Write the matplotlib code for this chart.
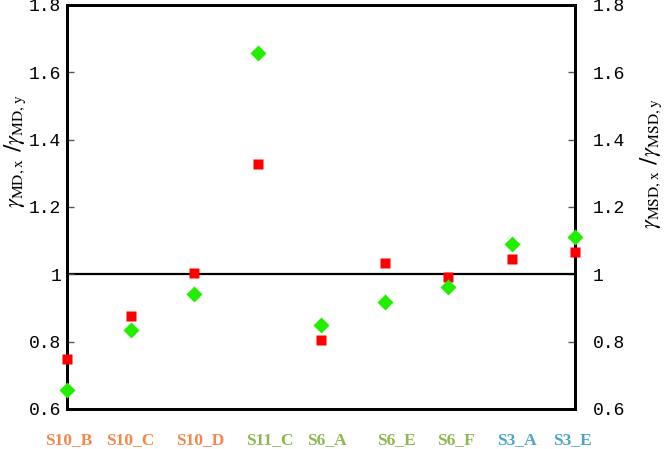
import matplotlib
matplotlib.use("Agg")
from matplotlib import pyplot as plt

# samples along the x axis
samples = ["S10_B", "S10_C", "S10_D", "S11_C", "S6_A", "S6_E", "S6_F", "S3_A", "S3_E"]
label_colors = ["#f4874b", "#f4874b", "#f4874b",
                "#8cb84e", "#8cb84e", "#8cb84e", "#8cb84e",
                "#4aa6c9", "#4aa6c9"]
# where the sample names sit under the axis (data units)
label_pos = [0.03, 1.0, 2.1, 3.2, 4.09, 5.18, 6.12, 7.09, 7.96]

md_ratio = [0.748, 0.876, 1.003, 1.328, 0.805, 1.033, 0.993, 1.045, 1.065]   # red squares
msd_ratio = [0.656, 0.835, 0.941, 1.658, 0.849, 0.919, 0.963, 1.090, 1.112]  # green diamonds

yticks = [0.6, 0.8, 1.0, 1.2, 1.4, 1.6, 1.8]
ytick_labels = ["0.6", "0.8", "1", "1.2", "1.4", "1.6", "1.8"]

plt.rcParams['mathtext.fontset'] = 'stix'

fig = plt.figure(figsize=(6.66, 4.49), dpi=100)
ax = fig.add_axes([0.1006, 0.0891, 0.7628, 0.8998])
ax2 = ax.twinx()
ax2.set_ylim(0.6, 1.8)
ax2.set_yticks(yticks)
ax2.set_yticklabels(ytick_labels, family="Liberation Mono")
ax2.tick_params(axis="y", direction="in", length=5, width=1, color="#555555",
                labelsize=13, pad=13)
for sp in ax2.spines.values():
    sp.set_linewidth(2)

ax.set_zorder(ax2.get_zorder() + 1)
ax.patch.set_visible(False)

x = list(range(len(samples)))
ax.axhline(1.0, color="black", lw=1.6, zorder=1)
ax.plot(x, md_ratio, ls="none", marker="s", ms=7.8, color="#ff0000",
        mec="none", clip_on=False, zorder=4)
ax.plot(x, msd_ratio, ls="none", marker="D", ms=8.0, color="#22ee00",
        mec="none", clip_on=False, zorder=5)

ax.set_xlim(0, len(samples) - 1)
ax.set_ylim(0.6, 1.8)
ax.set_yticks(yticks)
ax.set_yticklabels(ytick_labels, family="Liberation Mono")
ax.set_xticks([])
for sp in ax.spines.values():
    sp.set_linewidth(2)
ax.tick_params(axis="y", direction="in", length=5, width=1, color="#555555",
               labelsize=13, pad=4)

for xp, name, c in zip(label_pos, samples, label_colors):
    ax.text(xp, -0.077, name, transform=ax.get_xaxis_transform(), ha="center",
            va="center", color=c, fontsize=12.5, fontweight="bold",
            family="Liberation Serif")

fig.text(15 / 666, 1 - 151 / 449, r"$\gamma_{\mathrm{MD,x}}$ /$\gamma_{\mathrm{MD,y}}$",
         fontsize=16, rotation=90, ha="center", va="center", rotation_mode="anchor")
fig.text(651 / 666, 1 - 164 / 449, r"$\gamma_{\mathrm{MSD,x}}$ /$\gamma_{\mathrm{MSD,y}}$",
         fontsize=16, rotation=90, ha="center", va="center", rotation_mode="anchor")

plt.savefig("out.png", dpi=100)
